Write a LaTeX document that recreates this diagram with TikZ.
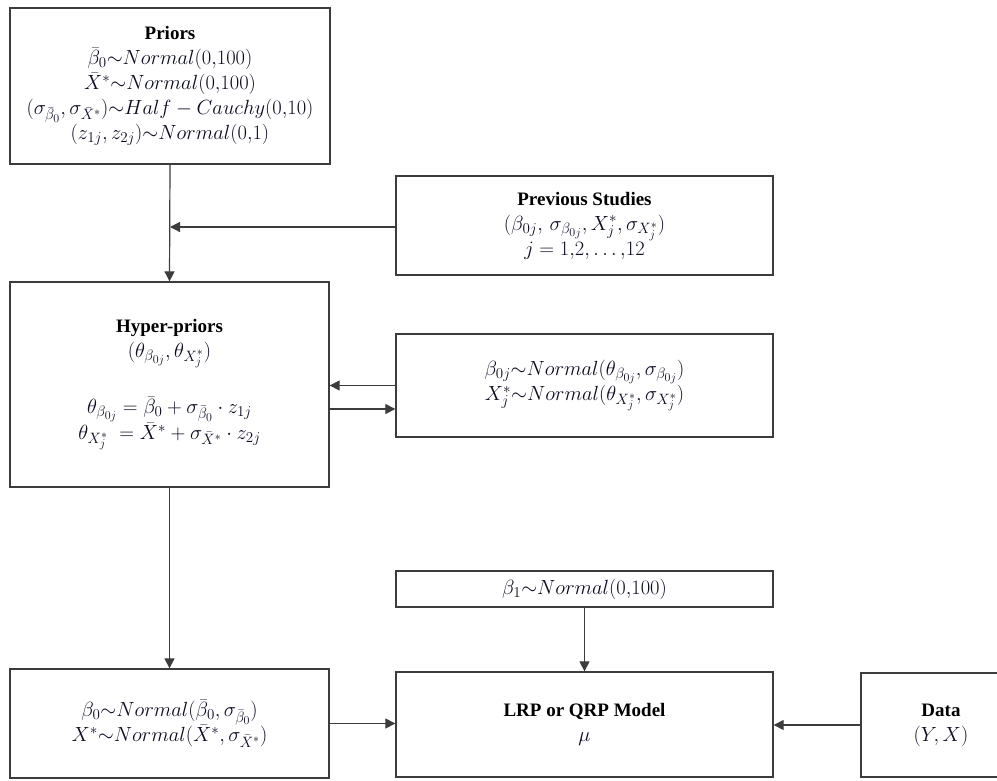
\RequirePackage{fix-cm}
\documentclass[tikz,border=0pt]{standalone}
\usepackage{fontspec}
\setmainfont{Liberation Serif}
\DeclareMathSizes{19}{20.5}{15}{12}
\usetikzlibrary{arrows.meta}
\definecolor{mathcol}{RGB}{12,12,35}
\definecolor{boxline}{RGB}{60,60,60}
\tikzset{
  box/.style={draw=boxline, line width=1.3pt, fill=white, align=center, inner sep=0pt,
    font=\fontsize{19}{25}\selectfont, text=mathcol},
  arr/.style={draw=boxline, line width=1.2pt, -{Triangle[length=10pt,width=10pt]}},
}
\newcommand{\ttl}[1]{\textcolor{black}{\textbf{#1}}}
\begin{document}
\begin{tikzpicture}[x=1pt,y=-1pt]
\useasboundingbox (0,0) rectangle (997,780);
\clip (0,0) rectangle (997,780);
\node[box, minimum width=320, minimum height=156] (priors) at (170,86) {%
  \ttl{Priors}\\
  $\bar\beta_0{\sim}Normal(0{,}100)$\\
  $\bar X^*{\sim}Normal(0{,}100)$\\
  $(\sigma_{\bar\beta_0},\sigma_{\bar X^*}){\sim}Half-Cauchy(0{,}10)$\\
  $(z_{1j},z_{2j}){\sim}Normal(0{,}1)$};
\node[box, minimum width=377, minimum height=99] (prev) at (584.5,225.5) {%
  \ttl{Previous Studies}\\
  $(\beta_{0j},\,\sigma_{\beta_{0j}},X_j^*,\sigma_{X_j^*})$\\
  $j=1{,}2{,}\ldots{,}12$};
\node[box, minimum width=319, minimum height=205] (hyper) at (169.5,384.5) {%
  \ttl{Hyper-priors}\\
  $(\theta_{\beta_{0j}},\theta_{X_j^*})$\\[28pt]
  $\theta_{\beta_{0j}}=\bar\beta_0+\sigma_{\bar\beta_0}\cdot z_{1j}$\\
  $\theta_{X_j^*}\;=\bar X^*+\sigma_{\bar X^*}\cdot z_{2j}$};
\node[box, minimum width=377, minimum height=103] (mid) at (584.5,385.5) {%
  $\beta_{0j}{\sim}Normal(\theta_{\beta_{0j}},\sigma_{\beta_{0j}})$\\
  $X_j^*{\sim}Normal(\theta_{X_j^*},\sigma_{X_j^*})$};
\node[box, minimum width=377, minimum height=36] (beta1) at (584.5,589) {%
  $\beta_1{\sim}Normal(0{,}100)$};
\node[box, minimum width=319, minimum height=109] (bl) at (169.5,723.5) {%
  $\beta_0{\sim}Normal\big(\bar\beta_0,\sigma_{\bar\beta_0}\big)$\\
  $X^*{\sim}Normal(\bar X^*,\sigma_{\bar X^*})$};
\node[box, minimum width=377, minimum height=105] (lrp) at (584.5,724.5) {%
  \ttl{LRP or QRP Model}\\
  $\mu$};
\node[box, minimum width=160, minimum height=104, text width=136pt] (data) at (941,725) {%
  \ttl{Data}\\
  $(Y,X)$};
% connectors
\draw[arr] (priors.south) -- (hyper.north);
\draw[arr] ([yshift=-1.5pt]prev.west) -- ([yshift=-1.5pt]prev.west -| priors.south);
\draw[arr] (mid.west) -- (mid.west -| hyper.east);
\draw[arr] ([yshift=-24.5pt]hyper.east) -- ([yshift=-24.5pt]hyper.east -| mid.west);
\draw[arr] (hyper.south) -- (bl.north);
\draw[arr] (beta1.south) -- (lrp.north);
\draw[arr] (bl.east) -- (bl.east -| lrp.west);
\draw[arr] (data.west) -- (data.west -| lrp.east);
\end{tikzpicture}
\end{document}
